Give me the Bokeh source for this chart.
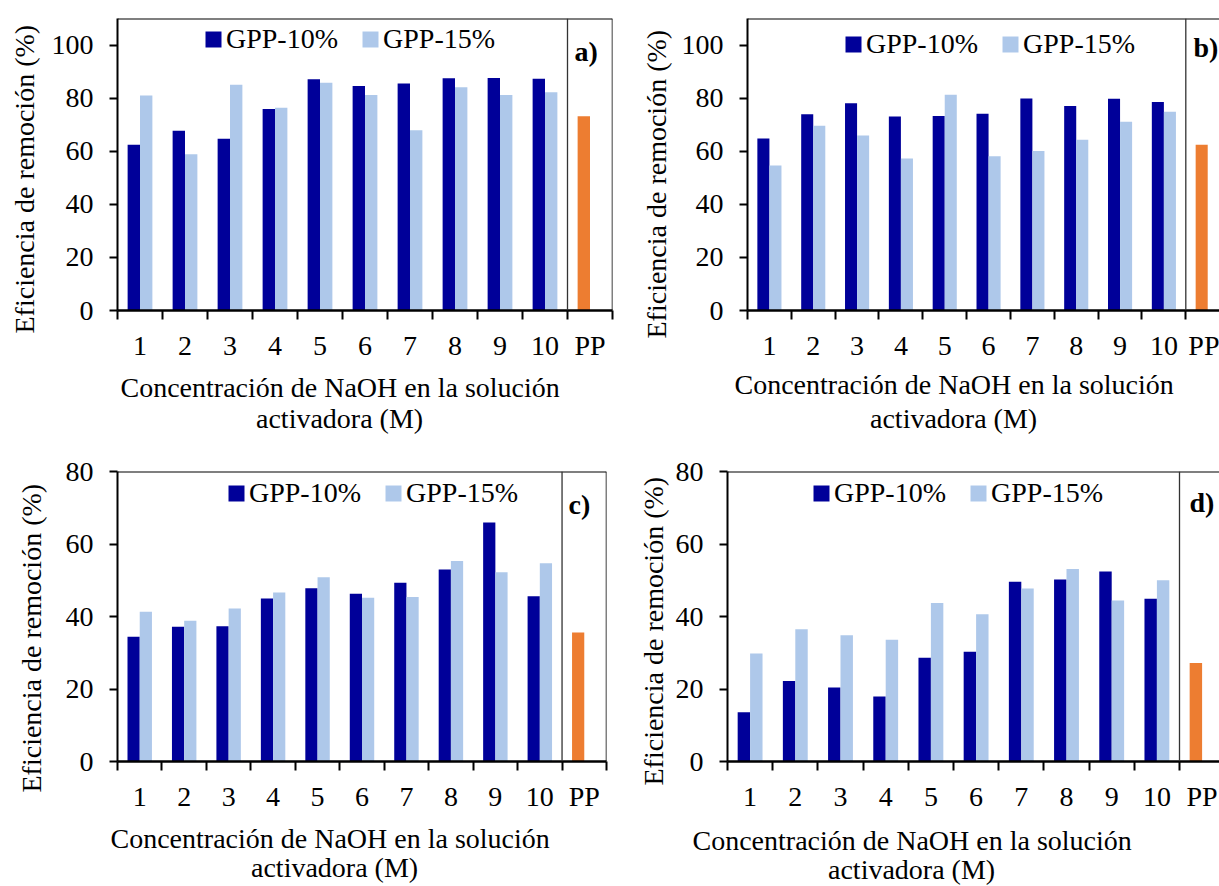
from bokeh.plotting import figure
from bokeh.models import (ColumnDataSource, FixedTicker, Span, Label, Legend, LegendItem, Title)
from bokeh.transform import dodge
from bokeh.layouts import column, row
from bokeh.embed import file_html
from bokeh.resources import INLINE

# ---------------- data ----------------
categories = ["1", "2", "3", "4", "5", "6", "7", "8", "9", "10", "PP"]
series_names = ["GPP-10%", "GPP-15%"]

a_gpp10 = [62.4, 67.7, 64.7, 75.9, 87.1, 84.6, 85.5, 87.5, 87.6, 87.3]
a_gpp15 = [81.0, 58.9, 85.0, 76.4, 85.8, 81.2, 67.9, 84.1, 81.2, 82.2]
a_pp = 73.2

b_gpp10 = [64.8, 73.9, 78.1, 73.1, 73.3, 74.1, 79.9, 77.0, 79.8, 78.5]
b_gpp15 = [54.6, 69.6, 65.9, 57.3, 81.3, 58.1, 60.1, 64.3, 71.1, 74.9]
b_pp = 62.4

c_gpp10 = [34.4, 37.2, 37.3, 45.0, 47.8, 46.3, 49.3, 53.0, 65.9, 45.6]
c_gpp15 = [41.3, 38.8, 42.2, 46.6, 50.8, 45.2, 45.4, 55.3, 52.2, 54.7]
c_pp = 35.6

d_gpp10 = [13.6, 22.2, 20.4, 17.9, 28.6, 30.3, 49.6, 50.2, 52.4, 44.9]
d_gpp15 = [29.8, 36.5, 34.8, 33.6, 43.7, 40.6, 47.7, 53.1, 44.4, 50.0]
d_pp = 27.2

yticks_ab = [0, 20, 40, 60, 80, 100]
yticks_cd = [0, 20, 40, 60, 80]
panel_tags = ["a)", "b)", "c)", "d)"]
y_title = "Eficiencia de remoción (%)"
x_title = ["Concentración de NaOH en la solución", "activadora (M)"]

# ---------------- style ----------------
FONT = "Liberation Serif"
FS = "28px"
DARK = "#000099"
LIGHT = "#aec8ea"
ORANGE = "#ed7d31"
BW = 0.275
HX = 50  # expected height of the x-axis panel (ticks + labels)


def panel(g10, g15, pp, ymax, yticks, tag, W, H, left, right, top, bottom,
          xend, yt_standoff, yt_offset, xt_offsets, xt_centers, tag_pos,
          legend_pos, closed):
    fh = H - top - bottom
    p = figure(width=W, height=H, x_range=(0.5, xend), y_range=(0, ymax),
               output_backend="svg", toolbar_location=None,
               min_border_left=left, min_border_right=right,
               min_border_top=top, min_border_bottom=bottom)
    p.xgrid.visible = False
    p.ygrid.visible = False
    p.outline_line_color = None
    p.background_fill_color = "white"
    p.border_fill_color = "white"

    n = len(g10)
    src = ColumnDataSource(dict(x=list(range(1, n + 1)), g10=g10, g15=g15))
    r10 = p.vbar(x=dodge("x", -BW / 2, range=p.x_range), top="g10", width=BW,
                 source=src, fill_color=DARK, line_color=None)
    r15 = p.vbar(x=dodge("x", BW / 2, range=p.x_range), top="g15", width=BW,
                 source=src, fill_color=LIGHT, line_color=None)
    srcpp = ColumnDataSource(dict(x=[len(categories)], v=[pp]))
    p.vbar(x=dodge("x", -BW / 2, range=p.x_range), top="v", width=BW,
           source=srcpp, fill_color=ORANGE, line_color=None)

    # x axis: labels at category centres, tick marks between categories
    xa = p.xaxis[0]
    xa.ticker = FixedTicker(ticks=[i + 1 for i in range(len(categories))],
                            minor_ticks=[i + 0.5 for i in range(len(categories) + 1)])
    xa.major_label_overrides = {i + 1: c for i, c in enumerate(categories)}
    xa.major_tick_out = 0
    xa.major_tick_in = 0
    xa.minor_tick_out = 9
    xa.minor_tick_in = 0
    xa.minor_tick_line_color = "black"
    xa.minor_tick_line_width = 2
    xa.axis_line_color = "black"
    xa.axis_line_width = 2.5
    xa.major_label_text_font = FONT
    xa.major_label_text_font_size = FS
    xa.major_label_text_color = "black"
    xa.major_label_standoff = 10

    # y axis
    ya = p.yaxis[0]
    ya.ticker = FixedTicker(ticks=yticks, minor_ticks=[])
    ya.major_tick_out = 8
    ya.major_tick_in = 0
    ya.major_tick_line_color = "black"
    ya.major_tick_line_width = 2
    ya.minor_tick_out = 0
    ya.minor_tick_in = 0
    ya.axis_line_color = "black"
    ya.axis_line_width = 2
    ya.major_label_text_font = FONT
    ya.major_label_text_font_size = FS
    ya.major_label_text_color = "black"
    ya.major_label_standoff = 16

    # frame lines
    p.add_layout(Span(location=ymax, dimension="width", line_color="black", line_width=2))
    p.add_layout(Span(location=len(categories) - 0.5, dimension="height",
                      line_color="#333333", line_width=1.3))
    if closed:
        p.add_layout(Span(location=len(categories) + 0.5, dimension="height",
                          line_color="black", line_width=1.5))

    tkw = dict(text_font=FONT, text_font_size=FS, text_font_style="normal",
               text_color="black", vertical_align="middle", align="left")
    # y title (left side, reads bottom to top)
    p.add_layout(Title(text=y_title, standoff=yt_standoff, offset=yt_offset, **tkw), "left")
    # x title, two centred lines
    c1, c2 = xt_centers
    s1 = 2 * (c1 - HX) - 33
    end1 = 2 * c1 - HX
    s2 = 2 * (c2 - end1) - 33
    p.add_layout(Title(text=x_title[0], standoff=s1, offset=xt_offsets[0], **tkw), "below")
    p.add_layout(Title(text=x_title[1], standoff=s2, offset=xt_offsets[1], **tkw), "below")

    # panel tag
    p.add_layout(Label(x=tag_pos[0], y=tag_pos[1], x_units="screen", y_units="screen",
                       text=tag, text_font=FONT, text_font_size=FS, text_font_style="bold",
                       text_color="black", text_baseline="middle", text_align="left"))

    lx, lyc = legend_pos  # frame-relative: left of glyph box, centre y below frame top
    leg = Legend(items=[LegendItem(label=series_names[0], renderers=[r10]),
                        LegendItem(label=series_names[1], renderers=[r15])],
                 orientation="horizontal", location=(lx, fh - lyc - 15.5),
                 glyph_width=20, glyph_height=20, label_standoff=3, spacing=22,
                 padding=0, margin=0, border_line_color=None,
                 background_fill_alpha=0,
                 label_text_font=FONT, label_text_font_size=FS,
                 label_text_color="black")
    p.add_layout(leg)
    return p


pa = panel(a_gpp10, a_gpp15, a_pp, 110, yticks_ab, panel_tags[0],
           614, 434, 116, 2, 16, 124, 11.5,
           15, -23, (3, 138.5), (74, 105), (457, 259), (86, 23.5), True)
pb = panel(b_gpp10, b_gpp15, b_pp, 110, yticks_ab, panel_tags[1],
           605, 434, 133, 0, 18, 122, 0.5 + 472 / 43.83,
           12, -28, (-13, 122.5), (71, 105), (446, 263.5), (96, 28.3), False)
pc = panel(c_gpp10, c_gpp15, c_pp, 80, yticks_cd, panel_tags[2],
           614, 451, 116, 8, 37, 120, 11.5,
           29, -31, (-7, 133.5), (74, 103), (451, 257), (109, 26), True)
pd = panel(d_gpp10, d_gpp15, d_pp, 80, yticks_cd, panel_tags[3],
           605, 451, 113, 0, 36, 124, 0.5 + 492 / 45.2,
           5, -24, (-35, 100.5), (76, 105), (462, 259.5), (84, 23), False)

layout = column(row(pa, pb), row(pc, pd))
open("out.html", "w").write(file_html(layout, INLINE))
